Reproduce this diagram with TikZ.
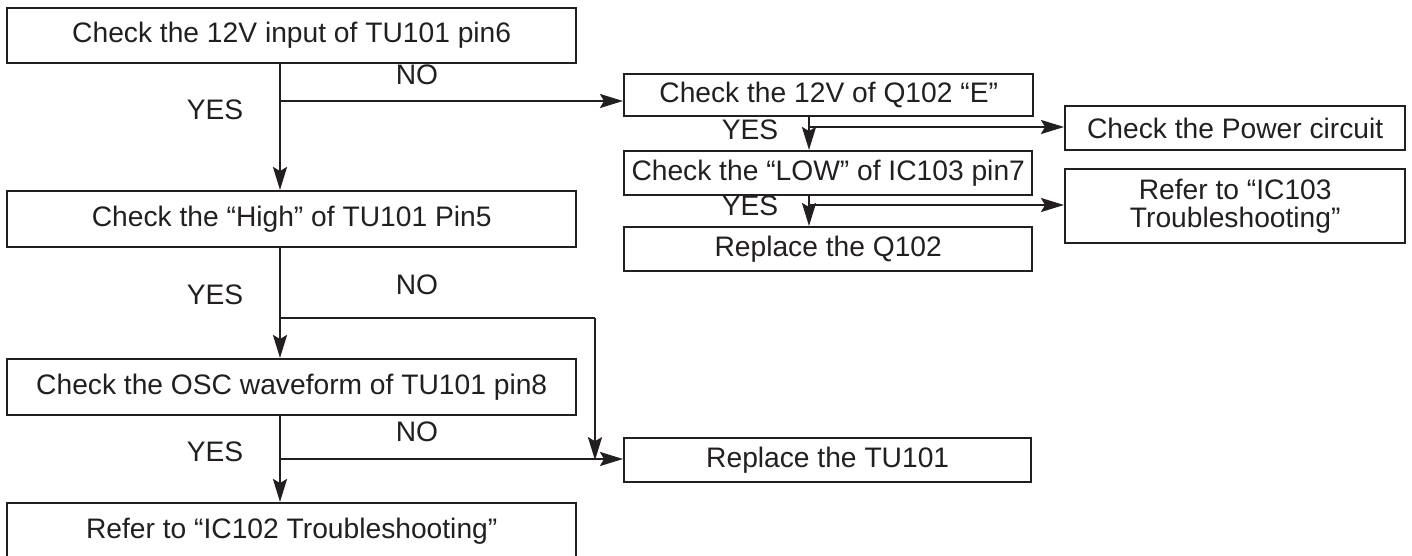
\documentclass[tikz,border=0pt]{standalone}
\usepackage{fontspec}
\setmainfont{Liberation Sans}
\usetikzlibrary{arrows.meta,calc}
\definecolor{ink}{RGB}{35,31,32}
\begin{document}
\begin{tikzpicture}[x=1pt,y=-1pt,
  txt/.style={font=\fontsize{28.2}{28}\selectfont, text=ink},
  box/.style={txt, draw=ink, line width=2.4pt, inner sep=0pt, anchor=north west, align=center},
  lbl/.style={txt, inner sep=0pt},
  flow/.style={draw=ink, line width=2.4pt, -{Stealth[length=23pt,width=14pt,inset=4pt]}},
  wire/.style={draw=ink, line width=2.4pt}]
\useasboundingbox (0,0) rectangle (1412,556);
\clip (0,0) rectangle (1412,556);

% left column
\node[box, minimum width=569pt, minimum height=55pt] (A) at (6,7)   {Check the 12V input of TU101 pin6};
\node[box, minimum width=569pt, minimum height=56pt] (B) at (6,190) {Check the “High” of TU101 Pin5};
\node[box, minimum width=569pt, minimum height=56pt] (D) at (6,358) {Check the OSC waveform of TU101 pin8};
\node[box, minimum width=569pt, minimum height=56pt] (E) at (6,502) {Refer to “IC102 Troubleshooting”};

% middle column
\node[box, minimum width=409pt, minimum height=42pt] (C) at (623,73)  {Check the 12V of Q102 “E”};
\node[box, minimum width=408pt, minimum height=44pt] (G) at (623,150) {Check the “LOW” of IC103 pin7};
\node[box, minimum width=408pt, minimum height=44pt] (I) at (623,226) {Replace the Q102};
\node[box, minimum width=407pt, minimum height=44pt] (F) at (623,437) {Replace the TU101};

% right column
\node[box, minimum width=340pt, minimum height=44pt] (H) at (1064,105) {Check the Power circuit};
\node[box, minimum width=340pt, minimum height=74pt] (J) at (1064,168) {Refer to “IC103\\Troubleshooting”};

% trunk lines and branch points
\coordinate (trunk)  at (280,0);
\coordinate (trunkR) at (809,0);
\coordinate (n1)  at (280,101);
\coordinate (n2)  at (280,318);
\coordinate (n2r) at (595,318);
\coordinate (n3)  at (280,459);
\coordinate (m1)  at (809,127);
\coordinate (m2)  at (809,205);

% connectors
\draw[flow] (A.south -| trunk) -- (B.north -| trunk);
\draw[flow] (n1) -- (n1 -| C.west);
\draw[flow] (B.south -| trunk) -- (D.north -| trunk);
\draw[wire] (n2) -- (n2r);
\draw[flow] (n2r) -- (n2r |- F.west);
\draw[flow] (D.south -| trunk) -- (E.north -| trunk);
\draw[flow] (n3) -- (n3 -| F.west);
\draw[flow] (C.south -| trunkR) -- (G.north -| trunkR);
\draw[flow] (m1) -- (m1 -| H.west);
\draw[flow] (G.south -| trunkR) -- (I.north -| trunkR);
\draw[flow] (m2) -- (m2 -| J.west);

% branch labels
\node[lbl] (y1) at (215,110) {YES};
\node[lbl] (o1) at (417,75)  {NO};
\node[lbl] (y2) at (215,295) {YES};
\node[lbl] (o2) at (417,285) {NO};
\node[lbl] (y3) at (215,452) {YES};
\node[lbl] (o3) at (417,432) {NO};
\node[lbl] (y4) at (750,130) {YES};
\node[lbl] (y5) at (750,206) {YES};
\end{tikzpicture}
\end{document}
